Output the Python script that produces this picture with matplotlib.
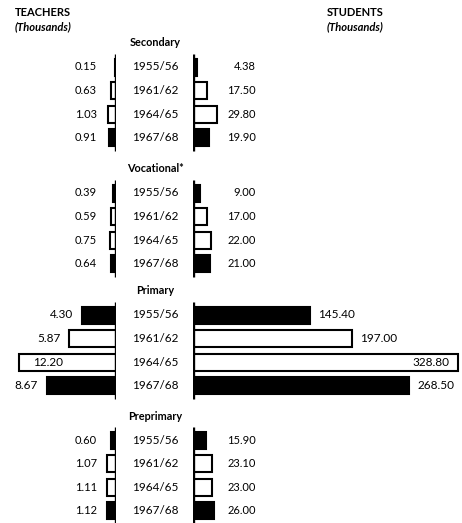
import matplotlib
matplotlib.use("Agg")
import matplotlib.pyplot as plt

# ---- data ----
groups = ["Secondary", "Vocational*", "Primary", "Preprimary"]
years = ["1955/56", "1961/62", "1964/65", "1967/68"]
teachers_secondary = [0.15, 0.63, 1.03, 0.91]
teachers_vocational = [0.39, 0.59, 0.75, 0.64]
teachers_primary = [4.30, 5.87, 12.20, 8.67]
teachers_preprimary = [0.60, 1.07, 1.11, 1.12]
students_secondary = [4.38, 17.50, 29.80, 19.90]
students_vocational = [9.00, 17.00, 22.00, 21.00]
students_primary = [145.40, 197.00, 328.80, 268.50]
students_preprimary = [15.90, 23.10, 23.00, 26.00]

teachers = [teachers_secondary, teachers_vocational, teachers_primary, teachers_preprimary]
students = [students_secondary, students_vocational, students_primary, students_preprimary]
year_fill = ["black", "white", "white", "black"]

# ---- layout (pixels) ----
W, H = 462, 523
group_first_row = [67, 193, 315, 440]
row_step = 23.6
bar_h = 17
t_axis_px, s_axis_px = 116, 193
t_px_per_unit = 7.95
s_px_per_unit = 0.806

plt.rcParams['font.family'] = ['Lato', 'DejaVu Sans']

fig = plt.figure(figsize=(W / 100, H / 100), dpi=100)
ax_t = fig.add_axes([0, 0, t_axis_px / W, 1])
ax_s = fig.add_axes([s_axis_px / W, 0, (W - s_axis_px) / W, 1])
ax_o = fig.add_axes([0, 0, 1, 1], zorder=-1)
ax_t.set_xlim(t_axis_px / t_px_per_unit, 0)
ax_s.set_xlim(0, (W - s_axis_px) / s_px_per_unit)
for a in (ax_t, ax_s, ax_o):
    a.set_ylim(H, 0)
    a.axis("off")
ax_o.set_xlim(0, W)

val_fs = 8
for gi, g in enumerate(groups):
    ys = [group_first_row[gi] + i * row_step for i in range(len(years))]
    primary = (g == "Primary")
    ax_t.barh(ys, teachers[gi], height=bar_h, color=year_fill, edgecolor="black", linewidth=1.5)
    ax_s.barh(ys, students[gi], height=bar_h, color=year_fill, edgecolor="black", linewidth=1.5)
    top, bot = ys[0] - 13, ys[-1] + 13
    ax_t.vlines(0, top, bot, color="black", lw=2.4)
    ax_s.vlines(0, top, bot, color="black", lw=2.4)
    ax_o.text(155, ys[0] - 24, g, ha="center", va="center", fontsize=7.8, fontweight="bold")
    for i, y in enumerate(ys):
        ax_o.text(155, y, years[i], ha="center", va="center", fontsize=8.5)
        tv, sv = teachers[gi][i], students[gi][i]
        if primary:
            if tv == max(teachers[gi]):
                ax_t.annotate(f"{tv:.2f}", (tv, y), xytext=(14, 0), textcoords="offset pixels",
                              ha="left", va="center", fontsize=val_fs + 0.5)
            else:
                ax_t.annotate(f"{tv:.2f}", (tv, y), xytext=(-9, 0), textcoords="offset pixels",
                              ha="right", va="center", fontsize=val_fs + 0.5)
            if sv == max(students[gi]):
                ax_s.annotate(f"{sv:.2f}", (sv, y), xytext=(-9, 0), textcoords="offset pixels",
                              ha="right", va="center", fontsize=val_fs + 0.5)
            else:
                ax_s.annotate(f"{sv:.2f}", (sv, y), xytext=(8, 0), textcoords="offset pixels",
                              ha="left", va="center", fontsize=val_fs + 0.5)
        else:
            ax_t.annotate(f"{tv:.2f}", (0, y), xytext=(-19, 0), textcoords="offset pixels",
                          ha="right", va="center", fontsize=val_fs)
            ax_s.annotate(f"{sv:.2f}", (0, y), xytext=(63, 0), textcoords="offset pixels",
                          ha="right", va="center", fontsize=val_fs)

ax_o.text(43, 12, "TEACHERS", ha="center", va="center", fontsize=8, fontweight="bold")
ax_o.text(43, 27, "(Thousands)", ha="center", va="center", fontsize=8, fontweight="bold", style="italic")
ax_o.text(355, 12, "STUDENTS", ha="center", va="center", fontsize=8, fontweight="bold")
ax_o.text(355, 27, "(Thousands)", ha="center", va="center", fontsize=8, fontweight="bold", style="italic")

fig.savefig("out.png", dpi=100)
